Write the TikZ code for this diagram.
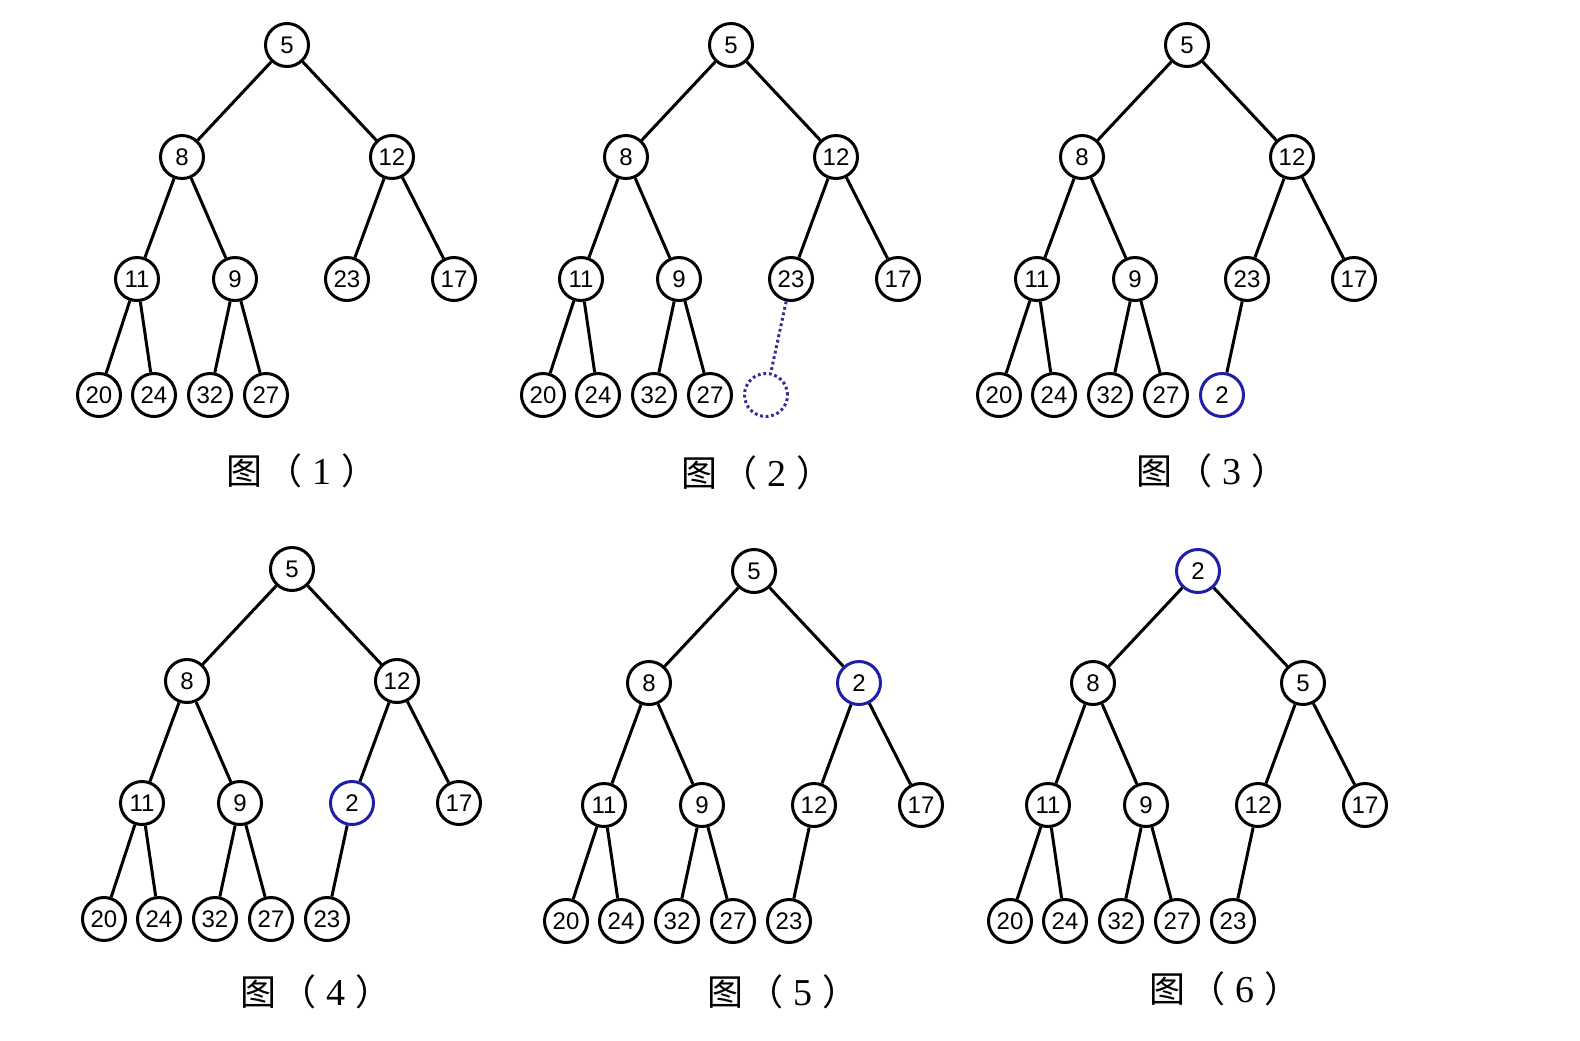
\documentclass[tikz,border=0pt]{standalone}
\usepackage{fontspec}
\setmainfont{Liberation Sans}
\newfontfamily\cjk{Noto Sans CJK SC}
\newfontfamily\capnum{Liberation Serif}
\usetikzlibrary{positioning}
\definecolor{heapblue}{RGB}{30,30,170}
\definecolor{holeblue}{RGB}{60,40,150}
\tikzset{
  key/.style={circle,draw=black,line width=1.5pt,minimum size=21.5pt,
    inner sep=0pt,font=\fontsize{12}{14}\selectfont},
  newkey/.style={key,draw=heapblue},
  hole/.style={key,draw=holeblue,dash pattern=on 1.4pt off 1.4pt},
  edge/.style={line width=1.5pt},
  holeedge/.style={edge,draw=holeblue,dash pattern=on 1.4pt off 1.4pt},
  caption/.style={font=\cjk\fontsize{18}{20}\selectfont}
}
% left subtree (8) and 17, the same in every step
\newcommand\heapbase[1]{%
  \node[key] (#1-8) at (-105,112) {8};
  \node[key] (#1-11) at (-150,234) {11};
  \node[key] (#1-9) at (-52,234) {9};
  \node[key] (#1-17) at (167,234) {17};
  \node[key] (#1-20) at (-188,350) {20};
  \node[key] (#1-24) at (-133,350) {24};
  \node[key] (#1-32) at (-77,350) {32};
  \node[key] (#1-27) at (-21,350) {27};
  \draw[edge] (#1-8)--(#1-11) (#1-8)--(#1-9)
    (#1-11)--(#1-20) (#1-11)--(#1-24)
    (#1-9)--(#1-32) (#1-9)--(#1-27);
}
\newcommand\figno[1]{图\hspace{2pt}（\hspace{5pt}{\capnum\fontsize{19}{20}\selectfont #1}\hspace{5pt}）}
\begin{document}
\begin{tikzpicture}[x=0.5pt,y=-0.5pt]
\useasboundingbox[fill=white] (0,0) rectangle (1580,1040);
% step 1
\begin{scope}[shift={(287,45)}]
\heapbase{a}
\node[key] (a-r) at (0,0) {5};
\node[key] (a-rr) at (105,112) {12};
\node[key] (a-rl) at (60,234) {23};
\draw[edge] (a-r)--(a-8) (a-r)--(a-rr) (a-rr)--(a-rl) (a-rr)--(a-17);
\node[caption] (cap1) at (15,426) {\figno{1}};
\end{scope}
% step 2
\begin{scope}[shift={(731,45)}]
\heapbase{b}
\node[key] (b-r) at (0,0) {5};
\node[key] (b-rr) at (105,112) {12};
\node[key] (b-rl) at (60,234) {23};
\node[hole] (b-new) at (35,350) {};
\draw[edge] (b-r)--(b-8) (b-r)--(b-rr) (b-rr)--(b-rl) (b-rr)--(b-17);
\draw[holeedge] (b-rl)--(b-new);
\node[caption] (cap2) at (26,428) {\figno{2}};
\end{scope}
% step 3
\begin{scope}[shift={(1187,45)}]
\heapbase{c}
\node[key] (c-r) at (0,0) {5};
\node[key] (c-rr) at (105,112) {12};
\node[key] (c-rl) at (60,234) {23};
\node[newkey] (c-new) at (35,350) {2};
\draw[edge] (c-r)--(c-8) (c-r)--(c-rr) (c-rr)--(c-rl) (c-rr)--(c-17)
  (c-rl)--(c-new);
\node[caption] (cap3) at (25,426) {\figno{3}};
\end{scope}
% step 4
\begin{scope}[shift={(292,569)}]
\heapbase{d}
\node[key] (d-r) at (0,0) {5};
\node[key] (d-rr) at (105,112) {12};
\node[newkey] (d-rl) at (60,234) {2};
\node[key] (d-new) at (35,350) {23};
\draw[edge] (d-r)--(d-8) (d-r)--(d-rr) (d-rr)--(d-rl) (d-rr)--(d-17)
  (d-rl)--(d-new);
\node[caption] (cap4) at (24,423) {\figno{4}};
\end{scope}
% step 5
\begin{scope}[shift={(754,571)}]
\heapbase{e}
\node[key] (e-r) at (0,0) {5};
\node[newkey] (e-rr) at (105,112) {2};
\node[key] (e-rl) at (60,234) {12};
\node[key] (e-new) at (35,350) {23};
\draw[edge] (e-r)--(e-8) (e-r)--(e-rr) (e-rr)--(e-rl) (e-rr)--(e-17)
  (e-rl)--(e-new);
\node[caption] (cap5) at (29,421) {\figno{5}};
\end{scope}
% step 6
\begin{scope}[shift={(1198,571)}]
\heapbase{f}
\node[newkey] (f-r) at (0,0) {2};
\node[key] (f-rr) at (105,112) {5};
\node[key] (f-rl) at (60,234) {12};
\node[key] (f-new) at (35,350) {23};
\draw[edge] (f-r)--(f-8) (f-r)--(f-rr) (f-rr)--(f-rl) (f-rr)--(f-17)
  (f-rl)--(f-new);
\node[caption] (cap6) at (27,418) {\figno{6}};
\end{scope}
\end{tikzpicture}
\end{document}
